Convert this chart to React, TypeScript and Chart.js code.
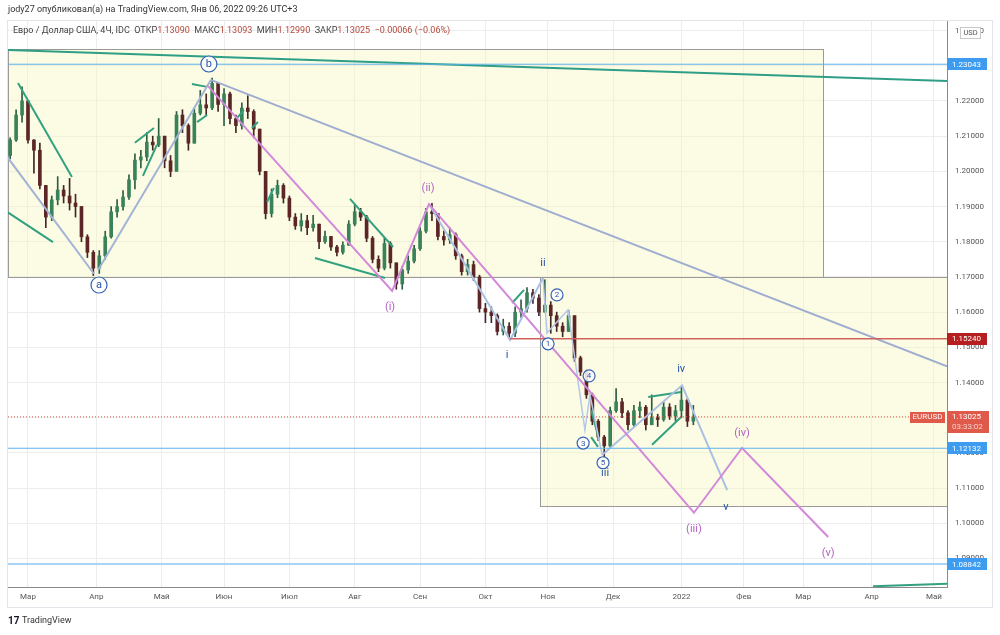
import React, { useEffect, useRef } from 'react';
import { Chart, registerables } from 'chart.js';
Chart.register(...registerables);

// ---- price data (trading-day index, 2 trading days per candle, day 0 = 1 Mar 2021)
const FIRST_OPEN = 1.2045;
const START_DAY = -6;
const DAY_STEP = 2;
const closes = [
  1.2089, 1.2160, 1.2200, 1.2089, 1.2060, 1.1960, 1.1870, 1.1919, 1.1947, 1.1930,
  1.1910, 1.1900, 1.1814, 1.1770, 1.1725, 1.1760, 1.1814, 1.1885, 1.1900, 1.1927,
  1.1976, 1.2032, 1.2041, 1.2083, 1.2075, 1.2100, 1.2030, 1.2000, 1.2160, 1.2130,
  1.2080, 1.2165, 1.2189, 1.2180, 1.2250, 1.2190, 1.2220, 1.2150, 1.2130, 1.2180,
  1.2170, 1.2120, 1.2000, 1.1880, 1.1935, 1.1960, 1.1924, 1.1870, 1.1845, 1.1860,
  1.1840, 1.1850, 1.1800, 1.1815, 1.1785, 1.1770, 1.1790, 1.1850, 1.1885, 1.1870,
  1.1810, 1.1750, 1.1725, 1.1795, 1.1740, 1.1680, 1.1720, 1.1745, 1.1780, 1.1830,
  1.1885, 1.1880, 1.1815, 1.1805, 1.1820, 1.1760, 1.1715, 1.1735, 1.1700, 1.1610,
  1.1600, 1.1590, 1.1545, 1.1560, 1.1540, 1.1600, 1.1610, 1.1655, 1.1640, 1.1600,
  1.1620, 1.1590, 1.1560, 1.1545, 1.1590, 1.1470, 1.1430, 1.1365, 1.1290, 1.1245,
  1.1220, 1.1320, 1.1345, 1.1314, 1.1280, 1.1320, 1.1330, 1.1280, 1.1300, 1.1295,
  1.1330, 1.1305, 1.1320, 1.1350, 1.1290, 1.13025,
];
const highs = [
  1.2095, 1.2175, 1.2240, 1.2200, 1.2090, 1.2080, 1.1960, 1.1930, 1.1985, 1.1960,
  1.1980, 1.1935, 1.1900, 1.1820, 1.1775, 1.1775, 1.1830, 1.1900, 1.1920, 1.1945,
  1.1990, 1.2050, 1.2060, 1.2110, 1.2100, 1.2150, 1.2100, 1.2045, 1.2170, 1.2175,
  1.2135, 1.2180, 1.2230, 1.2220, 1.2265, 1.2250, 1.2235, 1.2225, 1.2160, 1.2195,
  1.2215, 1.2175, 1.2120, 1.2000, 1.1950, 1.1975, 1.1965, 1.1930, 1.1880, 1.1880,
  1.1875, 1.1875, 1.1850, 1.1830, 1.1815, 1.1790, 1.1800, 1.1860, 1.1905, 1.1895,
  1.1875, 1.1815, 1.1760, 1.1810, 1.1800, 1.1740, 1.1730, 1.1760, 1.1790, 1.1840,
  1.1895, 1.1909, 1.1880, 1.1830, 1.1840, 1.1825, 1.1765, 1.1750, 1.1745, 1.1705,
  1.1625, 1.1615, 1.1595, 1.1580, 1.1570, 1.1615, 1.1635, 1.1670, 1.1665, 1.1650,
  1.1692, 1.1630, 1.1600, 1.1570, 1.1605, 1.1590, 1.1475, 1.1435, 1.1370, 1.1295,
  1.1250, 1.1330, 1.1383, 1.1355, 1.1320, 1.1335, 1.1345, 1.1335, 1.1365, 1.1310,
  1.1345, 1.1340, 1.1335, 1.1386, 1.1355, 1.1335,
];
const lows = [
  1.2035, 1.2085, 1.2140, 1.2080, 1.1995, 1.1950, 1.1840, 1.1860, 1.1905, 1.1910,
  1.1890, 1.1870, 1.1800, 1.1755, 1.1704, 1.1710, 1.1750, 1.1810, 1.1870, 1.1890,
  1.1920, 1.1950, 1.2010, 1.2030, 1.2060, 1.2070, 1.2010, 1.1985, 1.2000, 1.2110,
  1.2060, 1.2080, 1.2160, 1.2160, 1.2175, 1.2170, 1.2130, 1.2135, 1.2110, 1.2120,
  1.2150, 1.2095, 1.1990, 1.1865, 1.1870, 1.1925, 1.1910, 1.1860, 1.1835, 1.1830,
  1.1820, 1.1830, 1.1780, 1.1795, 1.1775, 1.1760, 1.1765, 1.1790, 1.1845, 1.1860,
  1.1800, 1.1740, 1.1715, 1.1720, 1.1725, 1.1665, 1.1665, 1.1710, 1.1740, 1.1775,
  1.1825, 1.1860, 1.1805, 1.1790, 1.1795, 1.1750, 1.1705, 1.1705, 1.1690, 1.1600,
  1.1570, 1.1570, 1.1535, 1.1535, 1.1525, 1.1530, 1.1585, 1.1600, 1.1625, 1.1590,
  1.1600, 1.1540, 1.1545, 1.1530, 1.1545, 1.1460, 1.1420, 1.1355, 1.1280, 1.1235,
  1.1186, 1.1215, 1.1315, 1.1300, 1.1265, 1.1275, 1.1300, 1.1265, 1.1280, 1.1275,
  1.1290, 1.1295, 1.1290, 1.1300, 1.1275, 1.1280,
];

// ---- axes
const X_MIN = -6.73;
const X_MAX = 309.4;
const Y_MIN = 1.0819;
const Y_MAX = 1.2430;
const monthTickDays = [0, 23, 45, 66, 88, 110, 132, 154, 175, 197, 220, 241, 261, 284, 305];
const monthTickLabels = ['Мар', 'Апр', 'Май', 'Июн', 'Июл', 'Авг', 'Сен', 'Окт', 'Ноя', 'Дек', '2022', 'Фев', 'Мар', 'Апр', 'Май'];
const priceTicks = [1.09, 1.10, 1.11, 1.12, 1.13, 1.14, 1.15, 1.16, 1.17, 1.18, 1.19, 1.20, 1.21, 1.22, 1.23, 1.24];

// ---- drawings (day, price)
const box1 = { x0: X_MIN, x1: 267.7, y0: 1.17, y1: 1.2348 };
const box2 = { x0: 172.4, x1: X_MAX, y0: 1.1049, y1: 1.17 };
const levelTop = 1.23043;
const levelRed = 1.1524;
const levelRedFrom = 162.3;
const levelBlue = 1.12132;
const levelLow = 1.08842;
const lastPrice = 1.13025;
const tealLong = [[X_MIN, 1.2345], [X_MAX, 1.2257]];
const grayTrend = [[61.6, 1.226], [X_MAX, 1.1446]];
const pinkPath = [[60.3, 1.2245], [122.6, 1.166], [135.0, 1.1907], [224.2, 1.103], [240.4, 1.1214], [269.4, 1.0961]];
const waveA = [[X_MIN, 1.2038], [22.2, 1.1709]];
const waveB = [[23.6, 1.172], [61.6, 1.226]];
const waveI = [[135.0, 1.1907], [162.3, 1.1521], [173.4, 1.1697]];
const waveIII = [[173.4, 1.1697], [174.7, 1.1541], [181.8, 1.1606], [187.5, 1.1265], [189.2, 1.1365], [193.3, 1.1194]];
const waveV = [[193.3, 1.1194], [220.2, 1.1392], [235.4, 1.1094]];
const greenLines = [
  [[-3.37, 1.2251], [14.8, 1.1984]],
  [[-7.07, 1.1885], [8.42, 1.1799]],
  [[36.0, 1.2081], [42.4, 1.2123]],
  [[38.7, 1.1987], [43.4, 1.2075]],
  [[55.2, 1.2248], [60.3, 1.224]],
  [[56.9, 1.214], [60.3, 1.216]],
  [[70.4, 1.2152], [72.7, 1.2174]],
  [[75.4, 1.2123], [77.4, 1.214]],
  [[80.5, 1.1913], [82.8, 1.1953]],
  [[108.4, 1.1922], [122.9, 1.1785]],
  [[96.6, 1.1754], [120.2, 1.1697]],
  [[163.0, 1.1626], [167.0, 1.1663]],
  [[189.6, 1.1322], [192.3, 1.1237]],
  [[189.6, 1.1245], [191.9, 1.1217]],
  [[208.8, 1.1359], [219.9, 1.1373]],
  [[210.1, 1.1223], [219.9, 1.1302]],
  [[284.5, 1.0821], [X_MAX, 1.0828]],
];
const circleLabels = [
  { t: 'a', x: 23.9, y: 1.1677, r: 8 },
  { t: 'b', x: 60.9, y: 1.2305, r: 8 },
  { t: '1', x: 175.1, y: 1.151, r: 6 },
  { t: '2', x: 178.1, y: 1.1649, r: 6 },
  { t: '3', x: 186.9, y: 1.1228, r: 6 },
  { t: '4', x: 188.9, y: 1.1419, r: 6 },
  { t: '5', x: 193.6, y: 1.1172, r: 6 },
];
const purpleLabels = [
  { t: '(i)', x: 121.9, y: 1.1615 },
  { t: '(ii)', x: 134.7, y: 1.1953 },
  { t: '(iii)', x: 224.2, y: 1.0984 },
  { t: '(iv)', x: 240.4, y: 1.1257 },
  { t: '(v)', x: 269.4, y: 1.0916 },
];
const blueLabels = [
  { t: 'i', x: 161.3, y: 1.1478 },
  { t: 'ii', x: 173.4, y: 1.174 },
  { t: 'iii', x: 194.3, y: 1.1143 },
  { t: 'iv', x: 219.9, y: 1.1439 },
  { t: 'v', x: 235.0, y: 1.1047 },
];

const FONT = 'Roboto, "Liberation Sans", sans-serif';
const UP_BODY = '#3a8259';
const DOWN_BODY = '#5c2626';
const UP_WICK = '#2c5e43';
const DOWN_WICK = '#442626';

function lineDs(pts: number[][], color: string, width: number, dash: number[] = []) {
  return {
    type: 'line' as const,
    data: pts.map(([x, y]) => ({ x, y })),
    borderColor: color,
    borderWidth: width,
    borderDash: dash,
    pointRadius: 0,
    fill: false,
    tension: 0,
    order: 1,
  };
}

const overlay = {
  id: 'overlay',
  beforeDatasetsDraw(chart: any) {
    const { ctx, chartArea: a, scales } = chart;
    const xs = scales.x, ys = scales.y;
    ctx.save();
    ctx.beginPath();
    ctx.rect(a.left, a.top, a.right - a.left, a.bottom - a.top);
    ctx.clip();
    for (const b of [box1, box2]) {
      const x0 = xs.getPixelForValue(b.x0), x1 = xs.getPixelForValue(b.x1);
      const y0 = ys.getPixelForValue(b.y1), y1 = ys.getPixelForValue(b.y0);
      ctx.fillStyle = 'rgba(248, 248, 190, 0.42)';
      ctx.fillRect(x0, y0, x1 - x0, y1 - y0);
      ctx.strokeStyle = '#9a9a9a';
      ctx.lineWidth = 1;
      ctx.strokeRect(Math.round(x0) + 0.5, Math.round(y0) + 0.5, Math.round(x1 - x0), Math.round(y1 - y0));
    }
    ctx.restore();
  },
  afterDraw(chart: any) {
    const { ctx, chartArea: a, scales } = chart;
    const xs = scales.x, ys = scales.y;
    const px = (v: number) => xs.getPixelForValue(v);
    const py = (v: number) => ys.getPixelForValue(v);
    ctx.save();
    ctx.textAlign = 'center';
    ctx.textBaseline = 'middle';
    for (const l of circleLabels) {
      const cx = px(l.x), cy = py(l.y);
      ctx.beginPath();
      ctx.arc(cx, cy, l.r, 0, Math.PI * 2);
      ctx.fillStyle = 'rgba(255,255,255,0.85)';
      ctx.fill();
      ctx.strokeStyle = '#3563b5';
      ctx.lineWidth = 1.2;
      ctx.stroke();
      ctx.fillStyle = '#2a55a8';
      ctx.font = `${l.r > 7 ? 11 : 8}px ${FONT}`;
      ctx.fillText(l.t, cx, cy + 0.5);
    }
    ctx.font = `11px ${FONT}`;
    ctx.fillStyle = '#b463c4';
    for (const l of purpleLabels) ctx.fillText(l.t, px(l.x), py(l.y));
    ctx.font = `11px ${FONT}`;
    ctx.fillStyle = '#2a55a8';
    for (const l of blueLabels) ctx.fillText(l.t, px(l.x), py(l.y));

    const tag = (v: number, text: string, bg: string, h = 12) => {
      const y = py(v);
      ctx.fillStyle = bg;
      ctx.fillRect(a.right, Math.round(y - h / 2), 40, h);
      ctx.fillStyle = '#fff';
      ctx.font = `8px ${FONT}`;
      ctx.textAlign = 'left';
      ctx.fillText(text, a.right + 5, y + 0.5);
    };
    tag(levelTop, levelTop.toFixed(5), '#3d9cf0');
    tag(levelRed, levelRed.toFixed(5), '#b51f1f');
    tag(levelBlue, levelBlue.toFixed(5), '#3d9cf0');
    tag(levelLow, levelLow.toFixed(5), '#3d9cf0');
    const cy = py(lastPrice);
    ctx.fillStyle = '#df5a4b';
    ctx.fillRect(a.right, Math.round(cy - 6), 42, 22);
    ctx.fillStyle = '#fff';
    ctx.font = `8px ${FONT}`;
    ctx.textAlign = 'left';
    ctx.fillText(lastPrice.toFixed(5), a.right + 5, cy + 0.5);
    ctx.fillStyle = '#f6d0cb';
    ctx.fillText('03:33:02', a.right + 5, cy + 10.5);
    ctx.fillStyle = '#df5a4b';
    ctx.fillRect(a.right - 37, Math.round(cy - 5), 35, 11);
    ctx.fillStyle = '#fff';
    ctx.textAlign = 'center';
    ctx.fillText('EURUSD', a.right - 19.5, cy + 0.5);
    ctx.fillStyle = '#fff';
    ctx.fillRect(960, 27, 20, 11);
    ctx.strokeStyle = '#c8c8c8';
    ctx.lineWidth = 1;
    ctx.strokeRect(960.5, 27.5, 20, 11);
    ctx.fillStyle = '#555';
    ctx.font = `7.5px ${FONT}`;
    ctx.fillText('USD', 970.5, 33);

    ctx.strokeStyle = '#e3e5ea';
    ctx.strokeRect(7.5, 20.5, 985, 587);

    ctx.textAlign = 'left';
    ctx.fillStyle = '#333';
    ctx.font = `9px ${FONT}`;
    ctx.fillText('jody27 опубликовал(а) на TradingView.com, Янв 06, 2022 09:26 UTC+3', 8, 10);
    const segs: [string, string][] = [
      ['Евро / Доллар США, 4Ч, IDC  ', '#444'], ['ОТКР', '#444'], ['1.13090', '#b4473a'],
      ['  МАКС', '#444'], ['1.13093', '#b4473a'], ['  МИН', '#444'], ['1.12990', '#b4473a'],
      ['  ЗАКР', '#444'], ['1.13025', '#b4473a'], ['  −0.00066 (−0.06%)', '#b4473a'],
    ];
    let tx = 13;
    ctx.font = `9px ${FONT}`;
    for (const [s, c] of segs) {
      ctx.fillStyle = c;
      ctx.fillText(s, tx, 31);
      tx += ctx.measureText(s).width;
    }
    ctx.fillStyle = '#131722';
    ctx.font = `bold 10px ${FONT}`;
    ctx.fillText('17', 8, 621);
    ctx.font = `9px ${FONT}`;
    ctx.fillStyle = '#333';
    ctx.fillText('TradingView', 22, 621);
    ctx.restore();
  },
};

export default function App() {
  const ref = useRef<HTMLCanvasElement>(null);
  useEffect(() => {
    const opens = closes.map((_, i) => (i === 0 ? FIRST_OPEN : closes[i - 1]));
    const days = closes.map((_, i) => START_DAY + i * DAY_STEP);
    const isUp = closes.map((c, i) => c >= opens[i]);
    const datasets: any[] = [
      lineDs([[X_MIN, levelTop], [X_MAX, levelTop]], '#5fb2ee', 1),
      lineDs([[X_MIN, levelBlue], [X_MAX, levelBlue]], '#5fb2ee', 1),
      lineDs([[X_MIN, levelLow], [X_MAX, levelLow]], '#a8d5f6', 2),
      lineDs([[levelRedFrom, levelRed], [X_MAX, levelRed]], '#d0625e', 1.5),
      lineDs([[X_MIN, lastPrice], [X_MAX, lastPrice]], '#e0584a', 1, [1, 2]),
      lineDs(tealLong, '#2f9e86', 2),
      lineDs(grayTrend, '#9eadd0', 2),
      lineDs(pinkPath, '#d388d9', 2),
      lineDs(waveA, '#a3b3d6', 2),
      lineDs(waveB, '#a3b3d6', 2),
      lineDs(waveI, '#a9c0e3', 2),
      lineDs(waveIII, '#b3c8e8', 1.5),
      lineDs(waveV, '#a9c0e3', 2),
      ...greenLines.map((g) => lineDs(g, '#33a07f', 2)),
      {
        type: 'bar',
        data: days.map((d, i) => ({ x: d, y: [lows[i], highs[i]] })),
        backgroundColor: isUp.map((u) => (u ? UP_WICK : DOWN_WICK)),
        barThickness: 1,
        grouped: false,
        order: 20,
      },
      {
        type: 'bar',
        data: days.map((d, i) => ({ x: d, y: [opens[i], closes[i]] })),
        backgroundColor: isUp.map((u) => (u ? UP_BODY : DOWN_BODY)),
        barThickness: 3,
        minBarLength: 1,
        grouped: false,
        order: 10,
      },
    ];
    const chart = new Chart(ref.current!, {
      type: 'bar',
      data: { datasets },
      plugins: [overlay],
      options: {
        responsive: false,
        devicePixelRatio: 1,
        animation: false,
        layout: { padding: { left: 8, top: 20, right: 0, bottom: 28 } },
        plugins: { legend: { display: false }, tooltip: { enabled: false } },
        scales: {
          x: {
            type: 'linear',
            min: X_MIN,
            max: X_MAX,
            offset: false,
            afterBuildTicks: (s: any) => { s.ticks = monthTickDays.map((v) => ({ value: v })); },
            afterFit: (s: any) => { s.height = 20; },
            grid: { color: '#ededed', drawTicks: false, offset: false },
            border: { color: '#8a8a8a' },
            ticks: {
              autoSkip: false,
              maxRotation: 0,
              padding: 5,
              color: '#555',
              font: { family: FONT, size: 8 },
              callback: (_v: any, i: number) => monthTickLabels[i],
            },
          },
          y: {
            type: 'linear',
            position: 'right',
            min: Y_MIN,
            max: Y_MAX,
            afterBuildTicks: (s: any) => { s.ticks = priceTicks.map((v) => ({ value: v })); },
            afterFit: (s: any) => { s.width = 53; },
            grid: { color: '#ededed', drawTicks: false },
            border: { color: '#8a8a8a' },
            ticks: {
              padding: 8,
              color: '#555',
              font: { family: FONT, size: 8 },
              callback: (v: any) => Number(v).toFixed(5),
            },
          },
        },
      } as any,
    } as any);
    return () => chart.destroy();
  }, []);
  return (
    <div style={{ position: 'fixed', left: 0, top: 0, width: 1000, height: 635, background: '#fff' }}>
      <canvas ref={ref} width={1000} height={635} style={{ display: 'block', width: 1000, height: 635 }} />
    </div>
  );
}
